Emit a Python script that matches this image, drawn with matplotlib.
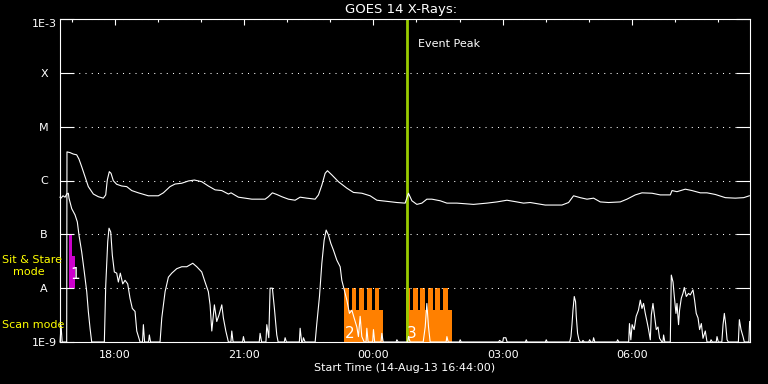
import matplotlib
matplotlib.use('Agg')
import matplotlib.pyplot as plt
import matplotlib.dates as mdates
from datetime import datetime, timedelta

# ---------------- data ----------------
start_time = datetime(2013, 8, 14, 16, 44)
duration_min = 960

# long channel (1-8 A): minutes after start, flux W/m^2
long_t = [0, 1.5, 3, 9.3, 9.7, 13.9, 18.5, 23.2, 26.4, 30.2, 34.8, 39.4, 46.4, 53.3, 60.3, 63.6,
          65.8, 68.6, 71.0, 74.2, 78.9, 85.9, 92.8, 99.8, 109.0, 122.9, 136.8, 143.8, 153.1, 160.1,
          169.4, 178.6, 187.0, 197.2, 206.4, 215.8, 225.1, 234.3, 238.0, 248.2, 257.5, 266.9, 285.4,
          290.0, 295.5, 301.6, 308.6, 317.8, 327.1, 334.1, 343.4, 355.0, 359.6, 364.3, 368.9, 372.1,
          378.2, 387.4, 399.1, 408.3, 420.0, 431.5, 440.9, 454.8, 468.7, 480.2, 484.8, 489.6, 496.5,
          503.5, 510.4, 517.4, 529.0, 538.3, 552.2, 575.3, 594.0, 607.9, 621.8, 635.7, 644.9, 654.2,
          675.1, 698.4, 707.6, 714.5, 723.8, 733.2, 742.4, 751.7, 763.2, 779.5, 788.8, 800.4, 809.7,
          823.7, 835.2, 849.1, 851.5, 858.4, 870.0, 879.3, 890.9, 900.2, 911.8, 925.7, 939.6, 951.2,
          959.1]
long_flux = [1e-9, 2e-9, 1e-9, 1e-9, 3.4e-6, 3.3e-6, 3.1e-6, 3.0e-6, 2.5e-6, 1.8e-6, 1.18e-6, 7.7e-7,
             5.6e-7, 5.0e-7, 4.7e-7, 5.4e-7, 1.02e-6, 1.46e-6, 1.36e-6, 9.9e-7, 8.5e-7, 7.9e-7, 7.7e-7,
             6.5e-7, 5.9e-7, 5.2e-7, 5.2e-7, 5.9e-7, 7.7e-7, 8.6e-7, 8.9e-7, 9.8e-7, 1.02e-6, 9.5e-7,
             7.9e-7, 6.7e-7, 6.5e-7, 5.6e-7, 5.9e-7, 4.9e-7, 4.7e-7, 4.5e-7, 4.5e-7, 5.0e-7, 5.9e-7,
             5.5e-7, 5.0e-7, 4.5e-7, 4.3e-7, 4.9e-7, 4.7e-7, 4.5e-7, 5.4e-7, 8.2e-7, 1.36e-6, 1.52e-6,
             1.27e-6, 9.5e-7, 7.2e-7, 6.0e-7, 5.8e-7, 5.2e-7, 4.3e-7, 4.1e-7, 3.9e-7, 3.8e-7, 5.8e-7,
             4.2e-7, 3.6e-7, 3.8e-7, 4.5e-7, 4.5e-7, 4.2e-7, 3.8e-7, 3.8e-7, 3.6e-7, 3.8e-7, 4.0e-7,
             4.3e-7, 4.0e-7, 3.8e-7, 3.9e-7, 3.5e-7, 3.5e-7, 3.9e-7, 5.2e-7, 4.8e-7, 4.5e-7, 4.7e-7,
             4.0e-7, 3.9e-7, 4.0e-7, 4.5e-7, 5.4e-7, 5.9e-7, 5.8e-7, 5.4e-7, 5.4e-7, 6.5e-7, 6.2e-7,
             6.9e-7, 6.5e-7, 5.9e-7, 5.9e-7, 5.5e-7, 4.8e-7, 4.7e-7, 4.8e-7, 5.2e-7]

# short channel (0.5-4 A): (minutes after start, flux W/m^2)
short_samples = [
    (0, 4.9e-7), (1.4, 4.7e-7), (4.2, 5.2e-7), (7, 4.9e-7), (9.3, 5.6e-7), (11.6, 5.8e-7), (12.5, 4.7e-7),
    (16.3, 3.0e-7), (20.9, 2.3e-7), (24.1, 1.7e-7), (26.4, 9.7e-8), (30.2, 4.7e-8), (33.8, 2.0e-8),
    (37.2, 8.6e-9), (39.4, 3.7e-9), (41.8, 1.8e-9), (44.1, 1e-9),
    (61.7, 1e-9), (63.6, 1.1e-8), (66.4, 7.3e-8), (68.2, 1.3e-7), (70.6, 1.1e-7), (72.8, 4.1e-8),
    (75.6, 2.0e-8), (78.9, 1.9e-8), (81.2, 1.3e-8), (83.9, 1.9e-8), (87.3, 1.2e-8), (90.5, 1.4e-8),
    (94.2, 1.2e-8), (97.4, 6.5e-9), (100.6, 4.2e-9), (104.4, 3.7e-9), (106.8, 1.6e-9), (111.4, 1e-9),
    (114.8, 1e-9), (116.0, 2.1e-9), (117.7, 1e-9), (123.2, 1e-9), (124.3, 1.35e-9), (126.0, 1e-9),
    (139.2, 1e-9), (141.6, 2.8e-9), (146.2, 8.6e-9), (150.8, 1.6e-8), (155.5, 1.9e-8), (162.4, 2.3e-8),
    (169.4, 2.5e-8), (176.4, 2.5e-8), (184.7, 2.9e-8), (190.3, 2.5e-8), (197.2, 2.0e-8), (201.8, 1.3e-8),
    (206.4, 8.6e-9), (208.8, 4.9e-9), (211.2, 1.6e-9), (214.8, 4.9e-9), (218.1, 2.4e-9), (221.3, 3.2e-9),
    (225.1, 4.9e-9), (227.3, 2.8e-9), (230.7, 1.6e-9), (234.3, 1e-9), (237.8, 1e-9), (239.0, 1.6e-9),
    (240.8, 1e-9), (254.0, 1e-9), (255.2, 1.26e-9), (256.8, 1e-9), (277.2, 1e-9), (278.4, 1.45e-9),
    (280.5, 1e-9), (286.5, 1e-9), (287.7, 2.1e-9), (290.5, 1.2e-9), (292.3, 1e-8),
    (295.5, 1e-8), (298.3, 4.2e-9), (301.6, 1.35e-9), (303.5, 1e-9), (312.0, 1e-9), (313.2, 1.2e-9),
    (315.0, 1e-9), (333.0, 1e-9), (334.1, 1.8e-9), (336.2, 1e-9), (337.6, 1e-9), (338.7, 1.2e-9),
    (341.0, 1e-9),
    (355.0, 1e-9), (357.3, 2.2e-9), (361.0, 7.0e-9), (364.3, 2.9e-8), (367.5, 7.8e-8), (370.3, 1.2e-7),
    (373.5, 9.7e-8), (376.8, 6.8e-8), (380.4, 5.1e-8), (385.2, 3.3e-8), (389.8, 2.5e-8), (392.1, 1.4e-8),
    (395.3, 9.5e-9), (399.1, 6.0e-9), (402.7, 3.4e-9), (406.1, 3.9e-9), (409.2, 2.8e-9), (413.0, 1.9e-9),
    (415.2, 1.26e-9), (417.6, 3.0e-9), (419.9, 1.26e-9), (423.2, 1e-9), (425.8, 1e-9), (426.9, 1.8e-9),
    (428.7, 1e-9), (435.0, 1e-9), (436.1, 1.7e-9), (437.8, 1e-9), (446.6, 1e-9), (447.8, 1.45e-9),
    (449.6, 1e-9), (467.6, 1e-9), (468.7, 1.1e-9), (470.5, 1e-9),
    (483.7, 1e-9), (484.8, 1.26e-9), (487.2, 1e-9), (505.3, 1e-9), (508.1, 1.9e-9), (510.4, 5.2e-9),
    (512.7, 1.9e-9), (515.0, 1e-9), (537.2, 1e-9), (538.3, 1.26e-9), (540.1, 1e-9), (555.7, 1e-9),
    (556.8, 1.1e-9), (558.2, 1e-9), (610.4, 1e-9), (611.5, 1.07e-9), (614.5, 1e-9), (616.0, 1e-9),
    (617.0, 1.2e-9), (620.3, 1.2e-9), (622.1, 1e-9), (647.6, 1e-9), (648.7, 1.1e-9), (650.0, 1e-9),
    (675.4, 1e-9), (676.5, 1.1e-9), (677.9, 1e-9),
    (709.2, 1e-9), (710.9, 1.26e-9), (712.3, 2.1e-9), (713.7, 3.9e-9), (715.5, 7.0e-9), (717.3, 5.6e-9),
    (718.3, 3.0e-9), (720.1, 1.45e-9), (722.0, 1.1e-9), (723.8, 1e-9), (726.5, 1e-9), (727.6, 1.07e-9),
    (729.4, 1e-9), (735.7, 1e-9), (736.8, 1.1e-9), (738.5, 1e-9), (741.3, 1e-9), (742.4, 1.2e-9),
    (744.1, 1e-9), (774.7, 1e-9), (775.8, 1.1e-9), (777.5, 1e-9),
    (791.2, 1e-9), (792.3, 2.2e-9), (794.2, 1.1e-9), (796.0, 2.1e-9), (798.8, 1.7e-9), (801.6, 3.0e-9),
    (804.8, 3.9e-9), (807.4, 6.0e-9), (809.7, 4.2e-9), (811.9, 5.2e-9), (814.3, 3.4e-9), (816.7, 2.4e-9),
    (818.9, 1.7e-9), (821.3, 1.1e-9), (822.7, 3.2e-9), (825.0, 5.2e-9), (827.3, 3.0e-9), (829.6, 1.7e-9),
    (832.0, 1.9e-9), (834.2, 1.17e-9), (837.6, 1e-9), (838.8, 1e-9), (839.8, 1.35e-9), (841.5, 1e-9),
    (849.1, 1e-9), (850.5, 1.75e-8), (852.9, 1.3e-8), (854.7, 7.0e-9), (857.0, 3.4e-9), (858.4, 5.2e-9),
    (860.6, 2.1e-9), (862.0, 3.9e-9), (864.4, 6.5e-9), (866.7, 8.0e-9), (868.6, 1.03e-8), (871.4, 7.0e-9),
    (874.5, 8.0e-9), (876.9, 7.5e-9), (880.7, 9.3e-9), (882.9, 6.0e-9), (885.2, 3.4e-9), (887.7, 2.8e-9),
    (889.9, 1.7e-9), (892.3, 2.2e-9), (894.6, 1.17e-9), (897.8, 1.6e-9), (900.2, 1e-9), (904.7, 1e-9),
    (905.8, 1.1e-9), (907.6, 1e-9), (913.0, 1e-9), (914.1, 1.26e-9), (915.9, 1e-9),
    (920.8, 1e-9), (922.5, 2.1e-9), (924.3, 3.4e-9), (926.1, 2.2e-9), (928.1, 1.1e-9), (929.9, 1e-9),
    (943.8, 1e-9), (945.2, 2.6e-9), (947.5, 1.7e-9), (950.3, 1.26e-9), (952.1, 1e-9), (958.4, 1e-9),
    (959.5, 2.4e-9),
]

# observing modes (minutes after start)
sitstare_tall = (12.5, 16.3, 1e-8, 1e-7)      # start, end, bottom, top
sitstare_wide = (12.5, 20.9, 1e-8, 4e-8)
scan_base = [(395, 449), (481, 545)]
scan_base_top = 3.9e-9
scan_teeth = [395.7, 406, 416.5, 427, 437.6, 481, 491, 501, 512, 522, 533]
scan_tooth_width = 6.5
scan_tooth_top = 1e-8
mode_labels = ['1', '2', '3']
mode_label_t = [14.0, 396.5, 482.5]
mode_label_y = [1.5e-8, 1.2e-9, 1.2e-9]

event_peak_min = 483

ytick_vals = [1e-9, 1e-8, 1e-7, 1e-6, 1e-5, 1e-4, 1e-3]
ytick_labels = ['1E-9', 'A', 'B', 'C', 'M', 'X', '1E-3']

# ---------------- drawing ----------------
def tnum(m):
    return mdates.date2num(start_time + timedelta(minutes=m))

W, H = 768, 384
fig = plt.figure(figsize=(W / 100, H / 100), dpi=100, facecolor='black')
ax = fig.add_axes([60 / W, 1 - 342 / H, 690 / W, 323 / H])
ax.set_facecolor('black')
ax.set_yscale('log')
ax.set_ylim(1e-9, 1e-3)
ax.set_xlim(tnum(0), tnum(duration_min))

orange = '#ff8000'
magenta = '#cc00cc'
green = '#99cc00'

# sit & stare bars
for s, e, b, t in [sitstare_tall, sitstare_wide]:
    ax.bar(tnum(s), t - b, width=tnum(e) - tnum(s), bottom=b, align='edge',
           color=magenta, linewidth=0, zorder=2)
# scan mode bars
for s, e in scan_base:
    ax.bar(tnum(s), scan_base_top - 1e-9, width=tnum(e) - tnum(s), bottom=1e-9, align='edge',
           color=orange, linewidth=0, zorder=2)
for s in scan_teeth:
    ax.bar(tnum(s), scan_tooth_top - 1e-9, width=tnum(s + scan_tooth_width) - tnum(s), bottom=1e-9,
           align='edge', color=orange, linewidth=0, zorder=2)

# event peak line
ax.axvline(tnum(event_peak_min), color=green, lw=2.0, zorder=3)
ax.annotate('Event Peak', xy=(tnum(event_peak_min), 1 - 28 / 323), xycoords=('data', 'axes fraction'),
            xytext=(7.5, 0), textcoords='offset points', color='white', fontsize=8, va='baseline')

# curves
ax.plot([tnum(m) for m in long_t], long_flux, color='white', lw=0.8, zorder=4, clip_on=False)
short_t = [tnum(p[0]) for p in short_samples]
short_f = [p[1] for p in short_samples]
ax.plot(short_t, short_f, color='white', lw=0.8, zorder=4, clip_on=False)

for lab, t, y in zip(mode_labels, mode_label_t, mode_label_y):
    ax.text(tnum(t), y, lab, color='white', fontsize=11, va='baseline', ha='left', zorder=5)

# axes styling
for sp in ax.spines.values():
    sp.set_color('white')
    sp.set_linewidth(0.8)
    sp.set_zorder(6)

ax.set_yticks(ytick_vals)
ax.set_yticklabels(ytick_labels)
ax.yaxis.set_minor_locator(matplotlib.ticker.NullLocator())
ax.tick_params(axis='y', which='major', direction='in', length=10, width=0.8, color='white',
               left=True, right=True, labelleft=True, labelright=False, labelcolor='white',
               labelsize=8, pad=11.5)
for lbl in ax.get_yticklabels():
    lbl.set_ha('center')
ax.get_yticklabels()[-1].set_va('top')
ax.yaxis.grid(True, which='major', color='white', linestyle=(0, (1, 5)), linewidth=0.75)
ax.set_axisbelow(False)

ax.xaxis.set_major_locator(mdates.HourLocator(byhour=range(0, 24, 3)))
ax.xaxis.set_minor_locator(mdates.HourLocator())
ax.xaxis.set_major_formatter(mdates.DateFormatter('%H:%M'))
ax.tick_params(axis='x', which='major', direction='in', length=4.3, width=0.8, color='white',
               bottom=False, top=True, labelbottom=True, labeltop=False, labelcolor='white',
               labelsize=8, pad=5.8)
ax.tick_params(axis='x', which='minor', direction='in', length=2.5, width=0.8, color='white',
               bottom=False, top=True)

# texts outside the axes
fig.text(401.5 / W, 1 - 13.5 / H, 'GOES 14 X-Rays:', color='white', fontsize=9.5,
         ha='center', va='baseline')
fig.text(405 / W, 1 - 371 / H, 'Start Time (14-Aug-13 16:44:00)', color='white', fontsize=8,
         ha='center', va='baseline')
fig.text(2 / W, 1 - 263 / H, 'Sit & Stare', color='yellow', fontsize=8, ha='left', va='baseline')
fig.text(12.5 / W, 1 - 275 / H, 'mode', color='yellow', fontsize=8, ha='left', va='baseline')
fig.text(2 / W, 1 - 328 / H, 'Scan mode', color='yellow', fontsize=8, ha='left', va='baseline')

fig.savefig('out.png', dpi=100, facecolor='black')
